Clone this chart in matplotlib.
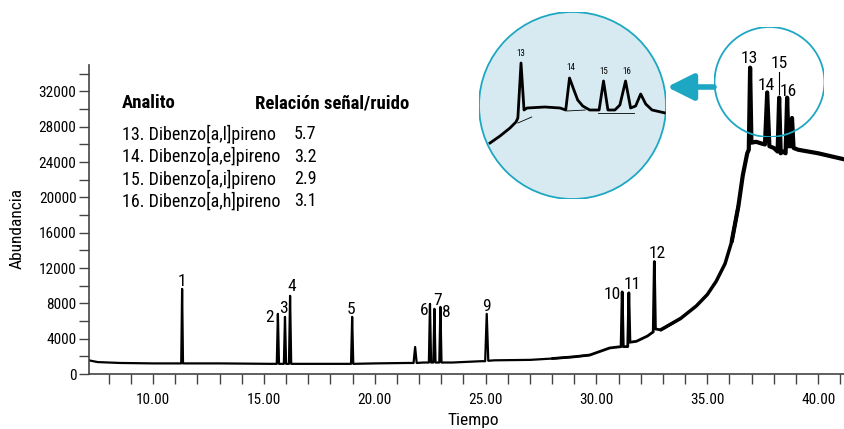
import numpy as np
import matplotlib.pyplot as plt
from matplotlib.patches import Circle, FancyArrowPatch
from matplotlib.ticker import MultipleLocator, FormatStrFormatter

plt.rcParams['font.family'] = ['Roboto Condensed', 'Archivo Narrow', 'PT Sans Narrow',
                               'Liberation Sans Narrow', 'Fira Sans Condensed', 'DejaVu Sans']

# baseline of the chromatogram (time in min, abundance)
base_time = [7.1, 7.5, 8.5, 10.0, 13.0, 15.3, 17.0, 18.5, 20.0, 21.5, 22.2, 23.5,
             24.8, 25.4, 27.0, 28.0, 29.0, 29.7, 30.6, 31.8, 32.3, 32.9, 33.8,
             34.5, 35.0, 35.4, 35.8, 36.1, 36.4, 36.6, 36.8, 37.2, 37.45, 38.0, 38.4,
             39.1, 40.0, 41.2]
base_value = [1550, 1350, 1250, 1200, 1200, 1150, 1150, 1150, 1200, 1250, 1300, 1300,
              1450, 1550, 1600, 1750, 1950, 2150, 2950, 3700, 4300, 5000, 6300,
              7700, 9000, 10500, 12500, 15000, 19000, 22500, 25000, 26300, 26100, 25600, 25200,
              25400, 25000, 24300]

# peaks: retention time, apex, half width, base left / right
peak_time = [11.31, 15.63, 15.95, 16.18, 18.98, 21.82, 22.49, 22.69, 22.96, 25.05,
             31.16, 31.46, 32.61, 36.93, 37.70, 38.24, 38.60, 38.82]
peak_height = [9640, 6810, 6470, 8850, 6470, 3060, 7940, 7380, 7600, 6810,
               9300, 9200, 12740, 34700, 31900, 31300, 31300, 29000]
peak_hw = [0.04, 0.05, 0.05, 0.05, 0.05, 0.07, 0.05, 0.05, 0.05, 0.07,
           0.05, 0.05, 0.05, 0.06, 0.10, 0.07, 0.07, 0.07]
peak_base_l = [1200, 1150, 1150, 1150, 1150, 1250, 1300, 1300, 1300, 1450,
               3100, 3100, 4770, 25400, 26000, 25200, 25000, 25800]
peak_base_r = [1200, 1150, 1150, 1150, 1150, 1250, 1300, 1300, 1300, 1500,
               3100, 3600, 5100, 26200, 25800, 25000, 25800, 25600]

peak_labels = ['1', '2', '3', '4', '5', '6', '7', '8', '9', '10', '11', '12', '13', '14', '15', '16']
label_time = [11.31, 15.27, 15.90, 16.27, 18.93, 22.22, 22.81, 23.22, 25.03, 30.71,
              31.61, 32.74, 36.88, 37.65, 38.24, 38.64]
label_value = [10440, 6355, 7376, 9873, 7263, 7149, 8284, 6922, 7603, 8965,
               10100, 13618, 35746, 32682, 35179, 32001]

# noise level (drawn as line width) by time section
noise_from = [7.1, 29.0, 33.5, 36.3]
noise_lw = [1.6, 2.0, 2.5, 3.0]

# zoomed trace in the inset
zoom_time = [36.438, 36.597, 36.755, 36.85, 36.88, 36.93, 36.978, 37.025, 37.31, 37.55,
             37.64, 37.70, 37.77, 37.83, 37.91, 38.02, 38.17, 38.24, 38.31, 38.42,
             38.50, 38.59, 38.67, 38.75, 38.83, 38.91, 39.01, 39.22]
zoom_value = [5700, 6400, 7200, 7800, 8200, 13700, 9000, 9200, 9300, 9200,
              9000, 12200, 11000, 10000, 9400, 9000, 9000, 11900, 9000, 9000,
              9500, 11900, 9200, 9400, 10600, 9600, 9000, 8700]
zoom_bl_time = [(36.88, 37.10), (37.66, 37.95), (38.15, 38.72)]
zoom_bl_value = [(7700, 8300), (8900, 9000), (8700, 8700)]
zoom_labels = ['13', '14', '15', '16']
zoom_label_time = [36.93, 37.72, 38.25, 38.61]
zoom_label_value = [14600, 13200, 12800, 12800]

analitos = ['13. Dibenzo[a,l]pireno', '14. Dibenzo[a,e]pireno',
            '15. Dibenzo[a,i]pireno', '16. Dibenzo[a,h]pireno']
snr = ['5.7', '3.2', '2.9', '3.1']

# ---- build the trace vertices
pts = []
for bt, bv in zip(base_time, base_value):
    inside = any(abs(bt - pt) <= w for pt, w in zip(peak_time, peak_hw))
    if not inside:
        pts.append((bt, bv))
for pt, ph, w, bl, br in zip(peak_time, peak_height, peak_hw, peak_base_l, peak_base_r):
    pts += [(pt - w, bl), (pt, ph), (pt + w, br)]
pts.sort()
tr_t = np.array([p[0] for p in pts])
tr_v = np.array([p[1] for p in pts])

W, H = 845, 429
fig = plt.figure(figsize=(W / 100, H / 100), dpi=100)
ax = fig.add_axes([89 / W, 1 - 374 / H, 1 - 89 / W, (374 - 65) / H])

edges = noise_from + [99]
for i in range(len(noise_from)):
    idx = np.where((tr_t >= edges[i]) & (tr_t <= edges[i + 1]))[0]
    lo = max(idx[0] - 1, 0)
    hi = idx[-1] + 1
    ax.plot(tr_t[lo:hi + 1], tr_v[lo:hi + 1], color='black', lw=noise_lw[i],
            solid_joinstyle='round', solid_capstyle='round')

ax.set_xlim(7.11, 41.21)
ax.set_ylim(0, 35000)
ax.spines['top'].set_visible(False)
ax.spines['right'].set_visible(False)
for s in ['left', 'bottom']:
    ax.spines[s].set_color('#444444')
    ax.spines[s].set_linewidth(1.2)
ax.xaxis.set_major_locator(MultipleLocator(5))
ax.xaxis.set_minor_locator(MultipleLocator(1))
ax.xaxis.set_major_formatter(FormatStrFormatter('%.2f'))
ax.yaxis.set_major_locator(MultipleLocator(4000))
ax.yaxis.set_minor_locator(MultipleLocator(2000))
ax.tick_params(which='both', direction='out', length=7, width=1, color='#444444',
               labelsize=11, pad=2)
ax.tick_params(axis='x', pad=7)

for lab, lt, lv in zip(peak_labels, label_time, label_value):
    ax.text(lt, lv, lab, ha='center', va='center', fontsize=12.5, clip_on=False)
ax.plot([38.24, 38.24], [34157, 31660], color='black', lw=0.8)

fig.text(17 / W, 1 - 228 / H, 'Abundancia', rotation=90, ha='center', va='center', fontsize=12.5)
fig.text(473 / W, 1 - 421 / H, 'Tiempo', ha='center', va='center', fontsize=12.5)

# table
fig.text(122 / W, 1 - 103 / H, 'Analito', fontsize=13.5, fontweight='bold', va='center')
fig.text(255 / W, 1 - 103 / H, 'Relación señal/ruido', fontsize=13.5, fontweight='bold', va='center')
for i, (a, s) in enumerate(zip(analitos, snr)):
    y = 1 - (134 + 22.5 * i) / H
    fig.text(122 / W, y, a, fontsize=13, va='center')
    fig.text(294 / W, y, s, fontsize=13, va='center')

teal = '#1ea7c2'

# inset
axi = fig.add_axes([479 / W, 1 - 199 / H, 187 / W, 187 / H])
axi.set_axis_off()
axi.set_xlim(36.263, 39.232)
axi.set_ylim(100, 18800)
circ = Circle((0.5, 0.5), 0.5, transform=axi.transAxes, facecolor='#d8eaf1',
              edgecolor=teal, lw=1.3, zorder=0)
axi.add_patch(circ)
ln, = axi.plot(zoom_time, zoom_value, color='black', lw=2.0, solid_joinstyle='round')
ln.set_clip_path(circ)
for bt, bv in zip(zoom_bl_time, zoom_bl_value):
    axi.plot(bt, bv, color='black', lw=0.6)
for lab, lt, lv in zip(zoom_labels, zoom_label_time, zoom_label_value):
    axi.text(lt, lv, lab, ha='center', va='center', fontsize=6.5)

# circle around peaks 13-16 on the main trace
axc = fig.add_axes([714.5 / W, 1 - 137 / H, 110 / W, 110 / H])
axc.set_axis_off()
axc.patch.set_alpha(0)
axc.add_patch(Circle((0.5, 0.5), 0.5, transform=axc.transAxes, facecolor='none',
                     edgecolor=teal, lw=1.3))

fig.patches.append(FancyArrowPatch(
    (714 / W, 1 - 87 / H), (667 / W, 1 - 87 / H), transform=fig.transFigure,
    arrowstyle='-|>,head_length=0.8,head_width=0.4', mutation_scale=20,
    color=teal, lw=4, shrinkA=0, shrinkB=0))

fig.savefig('out.png', dpi=100)
